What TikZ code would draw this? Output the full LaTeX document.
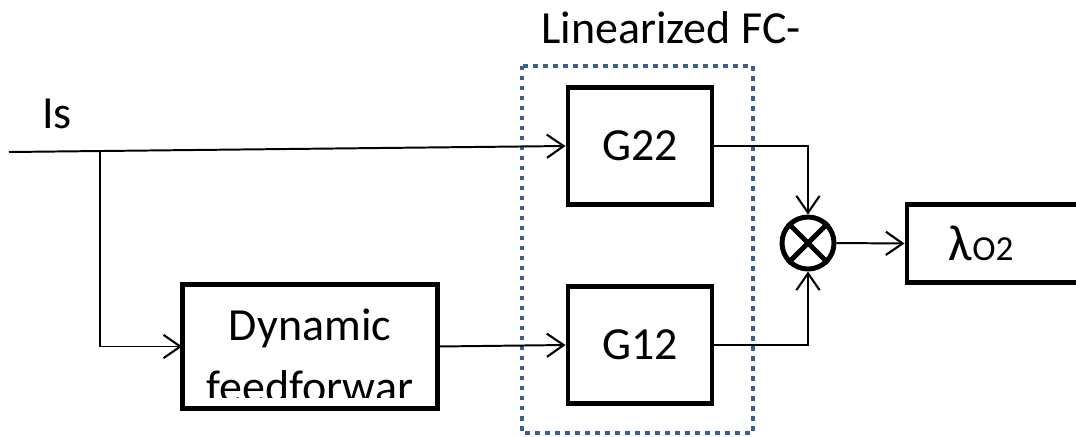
\documentclass[tikz,border=0pt]{standalone}
\usepackage{fontspec}
\setmainfont{Carlito}
\usepackage{tikz}
\usetikzlibrary{arrows.meta, positioning}
\definecolor{fcblue}{HTML}{3C5F8E}

\begin{document}
\begin{tikzpicture}[x=0.025cm, y=-0.025cm,
    every node/.style={font=\fontsize{32.7pt}{43.4pt}\selectfont},
    block/.style={draw, line width=3.5pt, minimum width=3.6cm, minimum height=2.925cm},
    sig/.style={line width=1.4pt, -{Straight Barb[length=0.42cm, width=0.58cm, line width=1.5pt]}}]
  \useasboundingbox (0,0) rectangle (1076,436);
  \clip (0,0) rectangle (1076,436);

  % linearized plant
  \draw[fcblue, line width=0.11cm, dash pattern=on 0.11cm off 0.14cm] (522,66) rectangle (753,433);
  \node[anchor=base west, inner sep=0] (fclabel) at (541,43) {Linearized FC-};
  \node[block] (G22) at (640,146) {G22};
  \node[block] (G12) at (640,345) {G12};

  % feedforward (text cut off at the bottom)
  \begin{scope}
    \clip (182.5,284.5) rectangle (437.5,397);
    \node[minimum width=6.375cm, minimum height=3.1cm, align=center, inner sep=0,
      font=\fontsize{32.7pt}{44.5pt}\selectfont] (dyn) at (310,346.5) {\rule{0pt}{1.25cm}Dynamic\\feedforwar};
  \end{scope}
  \draw[line width=3.5pt] (dyn.north west) rectangle (dyn.south east);

  \node[draw, circle, line width=3.5pt, minimum size=1.3cm, inner sep=0] (sum) at (808,243) {};
  \draw[line width=3.5pt] (sum.north west) -- (sum.south east);
  \draw[line width=3.5pt] (sum.north east) -- (sum.south west);

  \node[draw, line width=3.5pt, anchor=west, minimum height=1.95cm, inner xsep=1.05cm, text width=4cm, align=left] (lam) at (904.5,243.5) {{\fontsize{36pt}{40pt}\selectfont λ}{\fontsize{25pt}{28pt}\selectfont O2}};

  \node[anchor=base west, inner sep=0] (islabel) at (42,128) {Is};
  \coordinate (in) at (9,152);
  \coordinate (split) at (100,152);

  \draw[sig] (in) -- (G22.west);
  \draw[sig] (split) |- (dyn.west);
  \draw[sig] (dyn.east) -- (G12.west);
  \draw[sig] (G22.east) -| (sum.north);
  \draw[sig] (G12.east) -| (sum.south);
  \draw[sig] (sum.east) -- (lam.west);
\end{tikzpicture}
\end{document}
